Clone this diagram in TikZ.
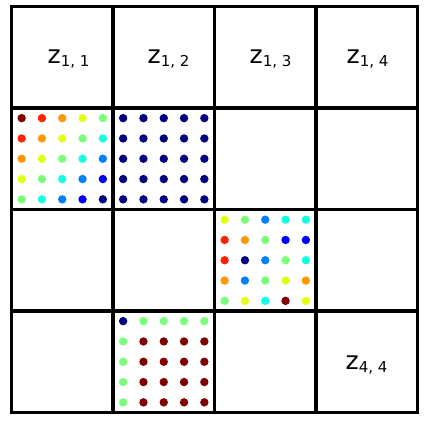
\documentclass[tikz,border=0pt]{standalone}
\usepackage{fontspec}
\setmainfont{DejaVu Sans}
\usepackage{xcolor}
\usepackage{tikz}
\definecolor{jet0}{HTML}{800000}
\definecolor{jet1}{HTML}{FF2200}
\definecolor{jet2}{HTML}{FF9700}
\definecolor{jet3}{HTML}{E2FF14}
\definecolor{jet4}{HTML}{7BFF7B}
\definecolor{jet5}{HTML}{14FFE2}
\definecolor{jet6}{HTML}{0080FF}
\definecolor{jet7}{HTML}{0000FF}
\definecolor{jet8}{HTML}{000080}
\newcommand{\zlab}[2]{{\fontsize{25}{25}\selectfont z}\raisebox{-3.2pt}{\fontsize{15}{15}\selectfont #1, #2}}
\tikzset{zlabel/.style={anchor=base west, inner sep=0pt}}

\begin{document}
\begin{tikzpicture}[x=1pt, y=-1pt]
\useasboundingbox (0,0) rectangle (424,424);
\fill[white] (0,0) rectangle (424,424);
% dots of cell (2,1)
\foreach \r in {0,...,4}
  \foreach \c in {0,...,4} {
    \pgfmathtruncatemacro\k{\r+\c}
    \fill[jet\k] (21.65+20.3*\c, 118.15+20.3*\r) circle[radius=4.2];
  }
% dots of cell (2,2)
\foreach \r in {0,...,4}
  \foreach \c in {0,...,4}
    \fill[jet8] (123.15+20.3*\c, 118.15+20.3*\r) circle[radius=4.2];
% dots of cell (3,3)
\foreach \k [count=\n from 0] in {3,4,6,5,5, 1,2,4,7,7, 1,8,6,4,5, 2,6,4,3,2, 4,3,5,0,3} {
    \pgfmathtruncatemacro\r{int(\n/5)}
    \pgfmathtruncatemacro\c{mod(\n,5)}
    \fill[jet\k] (224.65+20.3*\c, 219.65+20.3*\r) circle[radius=4.2];
  }
% dots of cell (4,2)
\foreach \k [count=\n from 0] in {8,4,4,4,4, 4,0,0,0,0, 4,0,0,0,0, 4,0,0,0,0, 4,0,0,0,0} {
    \pgfmathtruncatemacro\r{int(\n/5)}
    \pgfmathtruncatemacro\c{mod(\n,5)}
    \fill[jet\k] (123.15+20.3*\c, 321.15+20.3*\r) circle[radius=4.2];
  }
% grid
\foreach \i in {1,2,3} {
  \draw[line width=3.2pt] (11.5+101.5*\i, 6.5) -- (11.5+101.5*\i, 412.5);
  \draw[line width=3.2pt] (11.5, 6.5+101.5*\i) -- (417.5, 6.5+101.5*\i);
}
\draw[line width=3.2pt] (11.5,6.5) rectangle (417.5,412.5);
\node[zlabel] (z11) at (47.5,63) {\zlab{1}{1}};
\node[zlabel] (z12) at (147.5,63) {\zlab{1}{2}};
\node[zlabel] (z13) at (249.5,63) {\zlab{1}{3}};
\node[zlabel] (z14) at (346.5,63) {\zlab{1}{4}};
\node[zlabel] (z44) at (345.5,369) {\zlab{4}{4}};
\end{tikzpicture}
\end{document}
